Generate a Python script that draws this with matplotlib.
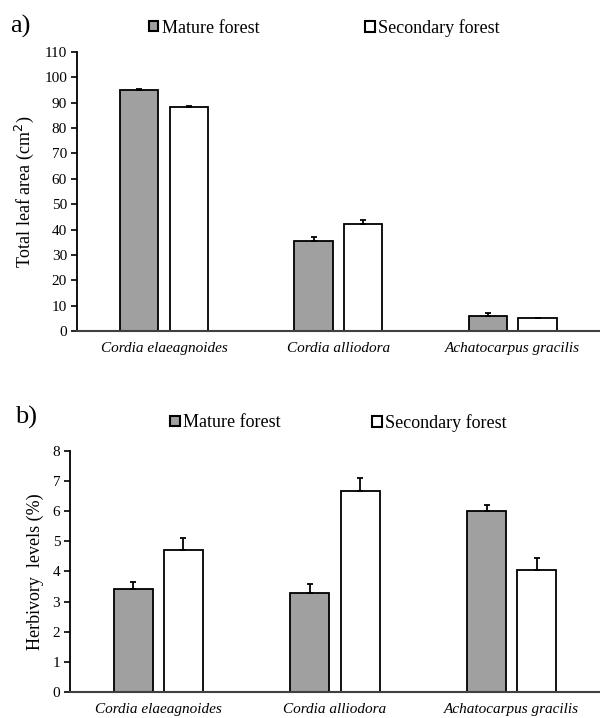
import matplotlib
matplotlib.use("Agg")
import matplotlib.pyplot as plt
import numpy as np
from matplotlib.patches import Patch

species = ["Cordia elaeagnoides", "Cordia alliodora", "Achatocarpus gracilis"]
groups = ["Mature forest", "Secondary forest"]

# a) total leaf area (cm2)
area_mature = [95.0, 35.5, 6.0]
area_mature_se = [0.5, 1.7, 0.9]
area_secondary = [88.2, 42.0, 5.0]
area_secondary_se = [0.7, 1.9, 0.3]

# b) herbivory levels (%)
herb_mature = [3.41, 3.28, 6.01]
herb_mature_se = [0.23, 0.31, 0.19]
herb_secondary = [4.70, 6.68, 4.05]
herb_secondary_se = [0.42, 0.40, 0.41]

plt.rcParams['font.family'] = ['Liberation Serif', 'DejaVu Serif']

gray = '#a0a0a0'
axcol = '#404040'
width = 0.22
off = 0.142

def draw_panel(ax, mature, mature_se, secondary, secondary_se, ymax, ystep, ylabel):
	x = np.arange(len(species))
	z = np.zeros(len(species))
	ax.bar(x - off, mature, width, color=gray, edgecolor='black', linewidth=1.3, zorder=2)
	ax.bar(x + off, secondary, width, color='white', edgecolor='black', linewidth=1.3, zorder=2)
	ax.errorbar(x - off, mature, yerr=[z, mature_se], fmt='none', ecolor='black',
		elinewidth=1.3, capsize=2.5, capthick=1.3, zorder=3)
	ax.errorbar(x + off, secondary, yerr=[z, secondary_se], fmt='none', ecolor='black',
		elinewidth=1.3, capsize=2.5, capthick=1.3, zorder=3)
	ax.set_xlim(-0.5, 2.5)
	ax.set_ylim(0, ymax)
	ax.set_yticks(np.arange(0, ymax + ystep / 2, ystep))
	ax.set_xticks(x)
	ax.set_xticklabels(species, fontstyle='italic', fontsize=11)
	ax.tick_params(axis='x', length=0, pad=8)
	ax.tick_params(axis='y', direction='out', length=4, width=1.2, color='black', labelsize=11, pad=3)
	ax.spines['top'].set_visible(False)
	ax.spines['right'].set_visible(False)
	ax.spines['left'].set_color('black')
	ax.spines['left'].set_linewidth(1.3)
	ax.spines['bottom'].set_color(axcol)
	ax.spines['bottom'].set_linewidth(1.5)
	ax.set_ylabel(ylabel, fontsize=13, labelpad=6)

def add_key(handle, label, x, y):
	fig.legend([handle], [label], loc='center left', bbox_to_anchor=(x, y),
		bbox_transform=fig.transFigure, frameon=False, fontsize=13,
		handlelength=0.53, handleheight=0.53, handletextpad=0.2,
		borderaxespad=0, borderpad=0)

fig = plt.figure(figsize=(6, 7.18), dpi=100)
ax1 = fig.add_axes([0.128, 0.539, 0.872, 0.3886])
ax2 = fig.add_axes([0.1167, 0.0358, 0.8833, 0.3365])

draw_panel(ax1, area_mature, area_mature_se, area_secondary, area_secondary_se, 110, 10,
	"Total leaf area (cm$^{2}$)")
draw_panel(ax2, herb_mature, herb_mature_se, herb_secondary, herb_secondary_se, 8, 1,
	"Herbivory  levels (%)")

h_mature = Patch(facecolor=gray, edgecolor='black', linewidth=1.5)
h_secondary = Patch(facecolor='white', edgecolor='black', linewidth=1.5)

add_key(h_mature, groups[0], 148.5 / 600, 0.961)
add_key(h_secondary, groups[1], 365 / 600, 0.961)
add_key(h_mature, groups[0], 170 / 600, 0.411)
add_key(h_secondary, groups[1], 372 / 600, 0.411)

fig.text(0.017, 0.963, "a)", fontsize=19, va='center', ha='left')
fig.text(0.025, 0.418, "b)", fontsize=19, va='center', ha='left')

fig.savefig("out.png", dpi=100)
